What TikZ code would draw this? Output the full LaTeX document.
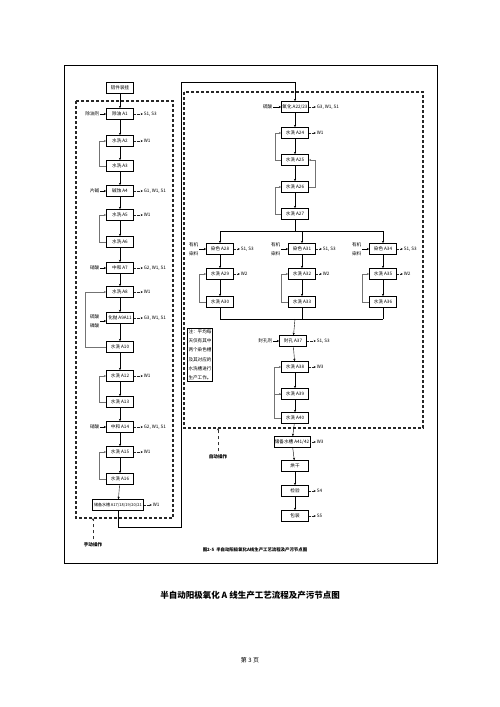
\documentclass[tikz,border=0pt]{standalone}
\usepackage{fontspec}
\setmainfont{Noto Sans CJK SC}
\usetikzlibrary{positioning, arrows.meta}

\begin{document}
\begin{tikzpicture}[
      x=1pt, y=-1pt, % pixel grid, y downwards
      >={Stealth[length=2.4pt,width=2.2pt]},
      font=\fontsize{4.6}{5.5}\selectfont,
      box/.style={draw, semithick, minimum width=27pt, minimum height=11pt, inner sep=1pt},
      flow/.style={->, thin, black},
      feed/.style={->, thin, black!55},
      emit/.style={->, densely dotted, black!85},
      tag/.style={inner sep=0.6pt},
      zone/.style={very thick, dash pattern=on 3pt off 2pt, black!85},
      opsarrow/.style={->, dashed, thin, black!80},
    ]
    \useasboundingbox (0,0) rectangle (500,707);

    % ---- frame and operating zones ---------------------------------------
    \draw[semithick] (64,65) rectangle (437,563);
    \draw[zone] (76,101) rectangle (173,518);
    \draw[zone] (184,92) rectangle (423,428);

    % ---- manual line (left column) ---------------------------------------
    \node[box] (hang) at (120,88)  {铝件装挂};
    \node[box] (a1)   at (120,114) {除油 A1};
    \node[box] (a2)   at (120,141) {水洗 A2};
    \node[box] (a3)   at (120,166) {水洗 A3};
    \node[box] (a4)   at (120,191) {碱蚀 A4};
    \node[box] (a5)   at (120,215) {水洗 A5};
    \node[box] (a6)   at (120,242) {水洗 A6};
    \node[box] (a7)   at (120,268) {中和 A7};
    \node[box] (a8)   at (120,292) {水洗 A8};
    \node[box] (a9)   at (120,318) {化抛 A9A11};
    \node[box] (a10)  at (120,347) {水洗 A10};
    \node[box] (a12)  at (120,376) {水洗 A12};
    \node[box] (a13)  at (120,402) {水洗 A13};
    \node[box] (a14)  at (120,427) {中和 A14};
    \node[box] (a15)  at (120,452) {水洗 A15};
    \node[box] (a16)  at (120,479) {水洗 A16};
    \node[box, minimum width=51pt, font=\fontsize{4}{5}\selectfont] (a17) at (118,505) {储备水槽 A17/18/19/20/21};

    \foreach \u/\v in {hang/a1, a1/a2, a2/a3, a3/a4, a4/a5, a5/a6, a6/a7, a7/a8,
                       a8/a9, a9/a10, a10/a12, a12/a13, a13/a14, a14/a15, a15/a16, a16/a17}
      \draw[flow] (\u) -- (\v);

    % inputs
    \node[tag, anchor=east] (in1)  at (100,114) {除油剂};
    \node[tag, anchor=east] (in4)  at (100,191) {片碱};
    \node[tag, anchor=east] (in7)  at (100,268) {硝酸};
    \node[tag, anchor=east, align=center, font=\fontsize{4.6}{9}\selectfont] (in9) at (100,321) {硫酸\\磷酸};
    \node[tag, anchor=east] (in14) at (100,427) {硝酸};
    \foreach \i in {1,4,7,14}
      \draw[flow] (in\i) -- (a\i);
    \draw[flow] (in9.east) -- (in9.east -| a9.west);

    % outputs
    \foreach \i/\t in {1/{S1, S3}, 2/W1, 4/{G1, W1, S1}, 5/W1, 7/{G2, W1, S1}, 8/W1,
                       9/{G3, W1, S1}, 12/W1, 14/{G2, W1, S1}, 15/W1}{
      \node[tag, anchor=west] (o\i) at (143,0 |- a\i) {\t};
      \draw[emit] (a\i) -- (o\i);
    }
    \node[tag, anchor=west] (o17) at (152,505) {W1};
    \draw[emit] (a17) -- (o17);

    % recycle loops
    \draw[feed] (a3.west)  -- ++(-7,0)  |- (a2.west);
    \draw[feed] (a6.west)  -- ++(-7,0)  |- (a5.west);
    \draw[feed] (a10.west) -- ++(-21,0) |- (a8.west);
    \draw[feed] (a13.west) -- ++(-7,0)  |- (a12.west);
    \draw[feed] (a16.west) -- ++(-7,0)  |- (a15.west);

    % ---- automatic line (right zone) -------------------------------------
    \node[box] (b22) at (295,107) {氧化 A22/23};
    \node[box] (b24) at (295,133) {水洗 A24};
    \node[box] (b25) at (295,160) {水洗 A25};
    \node[box] (b26) at (295,187) {水洗 A26};
    \node[box] (b27) at (295,214) {水洗 A27};

    \draw[flow] (a17.south) -- ++(0,16) -| (181,82) -| (b22.north);
    \foreach \u/\v in {b22/b24, b24/b25, b25/b26, b26/b27}
      \draw[flow] (\u) -- (\v);

    \node[tag, anchor=east] (in22) at (273,107) {硫酸};
    \draw[flow] (in22) -- (b22);
    \node[tag, anchor=west] (o22) at (316,107) {G3, W1, S1};
    \node[tag, anchor=west] (o24) at (316,133) {W1};
    \draw[emit] (b22) -- (o22);
    \draw[emit] (b24) -- (o24);

    \draw[feed] (b25.west) -- ++(-6,0) |- (b24.west);
    \draw[feed] (b26.east) -- ++(6,0)  |- (b25.east);
    \draw[feed] (b27.west) -- ++(-6,0) |- (b26.west);

    % dyeing branches
    \coordinate (split) at (295,231);
    \coordinate (merge) at (295,319);
    \draw[thin] (b27) -- (split);

    \foreach \n/\m/\k/\x in {28/29/30/220, 31/32/33/302, 34/35/36/383}{
      \node[box] (d\n) at (\x,249) {染色 A\n};
      \node[box] (d\m) at (\x,274) {水洗 A\m};
      \node[box] (d\k) at (\x,302) {水洗 A\k};
      \draw[flow] (split) -| (d\n);
      \draw[flow] (d\n) -- (d\m);
      \draw[flow] (d\m) -- (d\k);
      \node[tag, anchor=east, align=center, font=\fontsize{4.6}{9}\selectfont] (in\n) at (\x-21,249) {有机\\染料};
      \draw[flow] (in\n) -- (d\n);
      \node[tag, anchor=west] (o\n) at (\x+20,249) {S1, S3};
      \node[tag, anchor=west] (o\m) at (\x+20,274) {W2};
      \draw[emit] (d\n) -- (o\n);
      \draw[emit] (d\m) -- (o\m);
      \draw[feed] (d\k.west) -- ++(-7,0) |- (d\m.west);
      \draw[thin] (d\k) -- (d\k |- merge);
    }
    \draw[thin] (d30 |- merge) -- (d36 |- merge);

    % sealing and rinsing
    \node[box] (e37) at (293,341) {封孔 A37};
    \node[box] (e38) at (295,367) {水洗 A38};
    \node[box] (e39) at (295,394) {水洗 A39};
    \node[box] (e40) at (295,418) {水洗 A40};
    \draw[flow] (merge) -- (e37);
    \foreach \u/\v in {e37/e38, e38/e39, e39/e40}
      \draw[flow] (\u) -- (\v);
    \node[tag, anchor=east] (in37) at (273,341) {封孔剂};
    \draw[flow] (in37) -- (e37);
    \node[tag, anchor=west] (o37) at (316,341) {S1, S3};
    \node[tag, anchor=west] (o38) at (316,367) {W3};
    \draw[emit] (e37) -- (o37);
    \draw[emit] (e38) -- (o38);
    \draw[feed] (e39.west) -- ++(-7,0) |- (e38.west);
    \draw[feed] (e40.west) -- ++(-7,0) |- (e39.west);

    % note
    \node[draw, semithick, align=left, anchor=north west, inner sep=1.2pt,
          font=\fontsize{4.6}{9.3}\selectfont] (note) at (187,328)
      {注：平均每\\天仅有其中\\两个染色槽\\及其对应的\\水洗槽进行\\生产工作。};

    % ---- after the lines -------------------------------------------------
    \node[box, minimum width=34pt] (f41) at (292,442) {储备水槽 A41/42};
    \node[box] (f42) at (295,466) {烘干};
    \node[box] (f43) at (295,491) {检验};
    \node[box] (f44) at (295,516) {包装};
    \foreach \u/\v in {e40/f41, f41/f42, f42/f43, f43/f44}
      \draw[flow] (\u) -- (\v);
    \node[tag, anchor=west] (o41) at (316,442) {W3};
    \node[tag, anchor=west] (o43) at (316,491) {S4};
    \node[tag, anchor=west] (o44) at (316,516) {S5};
    \foreach \i in {41,43,44}
      \draw[emit] (f\i) -- (o\i);

    % ---- operating modes -------------------------------------------------
    \node[font=\bfseries\fontsize{4.6}{5}\selectfont] (manual) at (93,545) {手动操作};
    \node[font=\bfseries\fontsize{4.6}{5}\selectfont] (auto)   at (218,457) {自动操作};
    \coordinate (mzone) at (93,518);
    \coordinate (azone) at (218,428);
    \draw[opsarrow] (manual) -- (mzone);
    \draw[opsarrow] (auto) -- (azone);

    % ---- captions --------------------------------------------------------
    \node[font=\bfseries\fontsize{4.4}{5}\selectfont] (fig) at (255,550)
      {图2-5\ \ 半自动阳极氧化A线生产工艺流程及产污节点图};
    \node[font=\bfseries\fontsize{8.5}{10}\selectfont] (title) at (250,595)
      {半自动阳极氧化 A 线生产工艺流程及产污节点图};
    \node[font=\fontsize{6}{7}\selectfont] (page) at (250,660) {第 3 页};
  \end{tikzpicture}
\end{document}
